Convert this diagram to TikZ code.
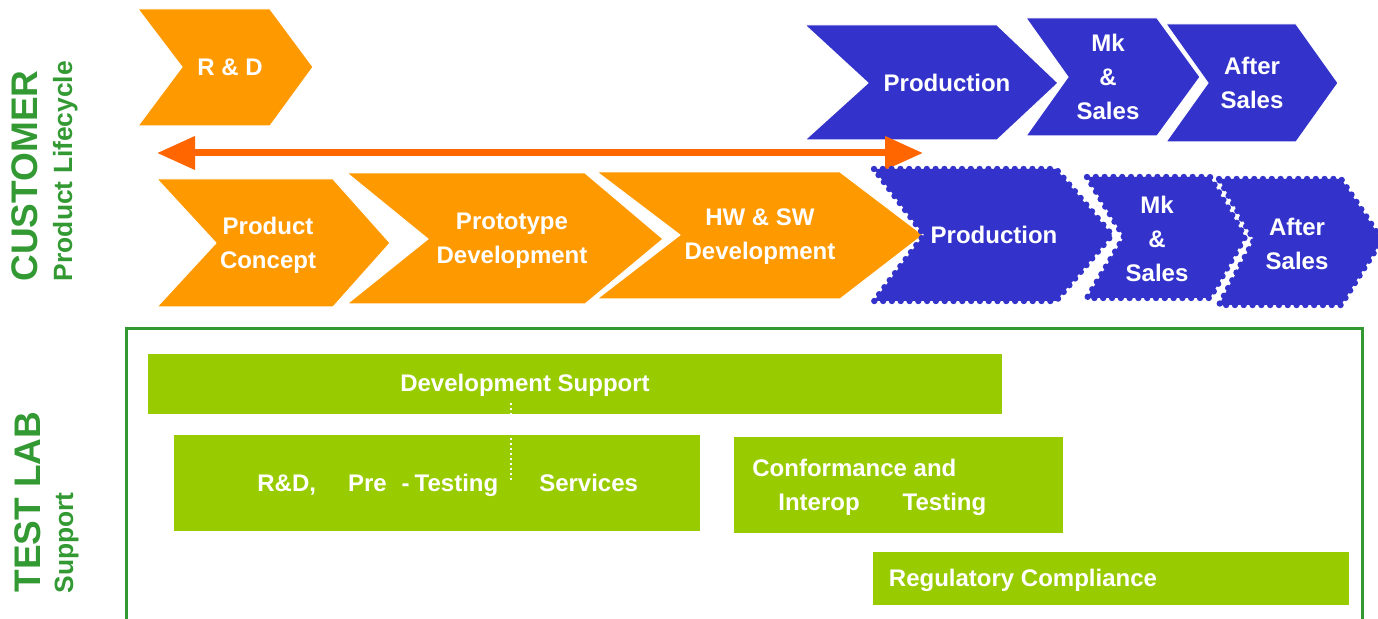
\documentclass[tikz,border=0pt]{standalone}
\usepackage{fontspec}
\setmainfont{Liberation Sans}
\usetikzlibrary{arrows.meta}
\definecolor{lcorange}{RGB}{255, 153, 0}
\definecolor{lcblue}{RGB}{51, 51, 204}
\definecolor{labgreen}{RGB}{153, 204, 0}
\definecolor{sidegreen}{RGB}{51, 153, 51}
\definecolor{spanred}{RGB}{255, 102, 0}
\tikzset{
  chevtext/.style={text=white, font=\fontsize{12}{17}\selectfont\bfseries, align=center, inner sep=0pt},
  orangechev/.style={fill=lcorange, draw=white, line width=0.5pt},
  bluechev/.style={fill=lcblue, draw=white, line width=0.5pt},
  planchev/.style={fill=lcblue, draw=lcblue, line width=3.2pt, line cap=round, dash pattern=on 0pt off 4.4pt},
  labbar/.style={fill=labgreen},
  sidebig/.style={text=sidegreen, font=\fontsize{18.5}{20}\selectfont\bfseries, rotate=90, anchor=base, inner sep=0pt},
  sidesmall/.style={text=sidegreen, font=\fontsize{13.2}{15}\selectfont\bfseries, rotate=90, anchor=base, inner sep=0pt},
}

\begin{document}
\begin{tikzpicture}[x=0.5pt, y=-0.5pt]
\useasboundingbox (0,0) rectangle (1378,619);

% side titles
\node[sidebig] (cust) at (38,176) {CUSTOMER};
\node[sidesmall] (life) at (72,171) {Product Lifecycle};
\node[sidebig] (lab) at (40,502) {TEST LAB};
\node[sidesmall] (supp) at (73,543) {Support};

% customer view, top row
\draw[orangechev] (138,9) -- (270,9) -- (313,67) -- (270,126) -- (138,126) -- (182,67) -- cycle;
\node[chevtext] (rnd) at (230,67) {R \& D};
\draw[bluechev] (805,25) -- (997,25) -- (1058,83) -- (997,140) -- (805,140) -- (868,83) -- cycle;
\node[chevtext] (prodA) at (947,83) {Production};
\draw[bluechev] (1026,18) -- (1157,18) -- (1200,77) -- (1157,136) -- (1026,136) -- (1068,77) -- cycle;
\node[chevtext] (mkA) at (1108,77) {Mk\\\&\\Sales};
\draw[bluechev] (1166,24) -- (1296,24) -- (1338,83) -- (1296,142) -- (1166,142) -- (1208,83) -- cycle;
\node[chevtext] (afterA) at (1252,83) {After\\Sales};

% span of the R&D phase
\coordinate (spanL) at (157,153);
\coordinate (spanR) at (923,153);
\draw[spanred, line width=3.5pt, {Triangle[length=19pt,width=16pt]}-{Triangle[length=19pt,width=16pt]}] (spanL) -- (spanR);

% customer view, detailed row
\draw[orangechev] (157,179) -- (333,179) -- (390,243) -- (333,307) -- (157,307) -- (216,243) -- cycle;
\node[chevtext] (concept) at (268,245) {Product\\Concept};
\draw[orangechev] (347,173) -- (585,173) -- (663,239) -- (585,304) -- (347,304) -- (428,239) -- cycle;
\node[chevtext] (proto) at (512,241) {Prototype\\Development};
\draw[orangechev] (597,172) -- (840,172) -- (923,235) -- (840,299) -- (597,299) -- (680,235) -- cycle;
\node[chevtext] (hwsw) at (760,237) {HW \& SW\\Development};
\draw[planchev] (874,169) -- (1056,169) -- (1112,235) -- (1056,301) -- (874,301) -- (924,235) -- cycle;
\node[chevtext] (prodB) at (994,235) {Production};
\draw[planchev] (1087,177) -- (1210,177) -- (1245,237) -- (1210,298) -- (1087,298) -- (1124,237) -- cycle;
\node[chevtext] (mkB) at (1157,239) {Mk\\\&\\Sales};
\draw[planchev] (1219,179) -- (1341,179) -- (1382,240) -- (1341,305) -- (1219,305) -- (1254,240) -- cycle;
\node[chevtext] (afterB) at (1297,244) {After\\Sales};

% test lab services
\draw[sidegreen, line width=1.5pt] (126,329) rectangle (1362,630);
\fill[labbar] (148,354) rectangle (1002,414);
\node[chevtext] (devsup) at (525,385) {Development Support};
\fill[labbar] (174,435) rectangle (700,531);
\node[chevtext, anchor=base west] (pretest) at (257,492) {R\&D,\hspace{16pt}Pre\hspace{7.5pt}-\hspace{2.5pt}Testing\hspace{20.5pt}Services};
\fill[labbar] (734,437) rectangle (1063,533);
\node[chevtext, anchor=west, align=left] (interop) at (752,487) {Conformance and\\\hspace*{13pt}Interop\hspace{21.5pt}Testing};
\fill[labbar] (873,552) rectangle (1349,605);
\node[chevtext] (regul) at (1023,580) {Regulatory Compliance};

% split mark
\coordinate (splitT) at (511,403);
\coordinate (splitB) at (511,482);
\draw[white, line width=1pt, dash pattern=on 1pt off 1.5pt] (splitT) -- (splitB);
\end{tikzpicture}
\end{document}
